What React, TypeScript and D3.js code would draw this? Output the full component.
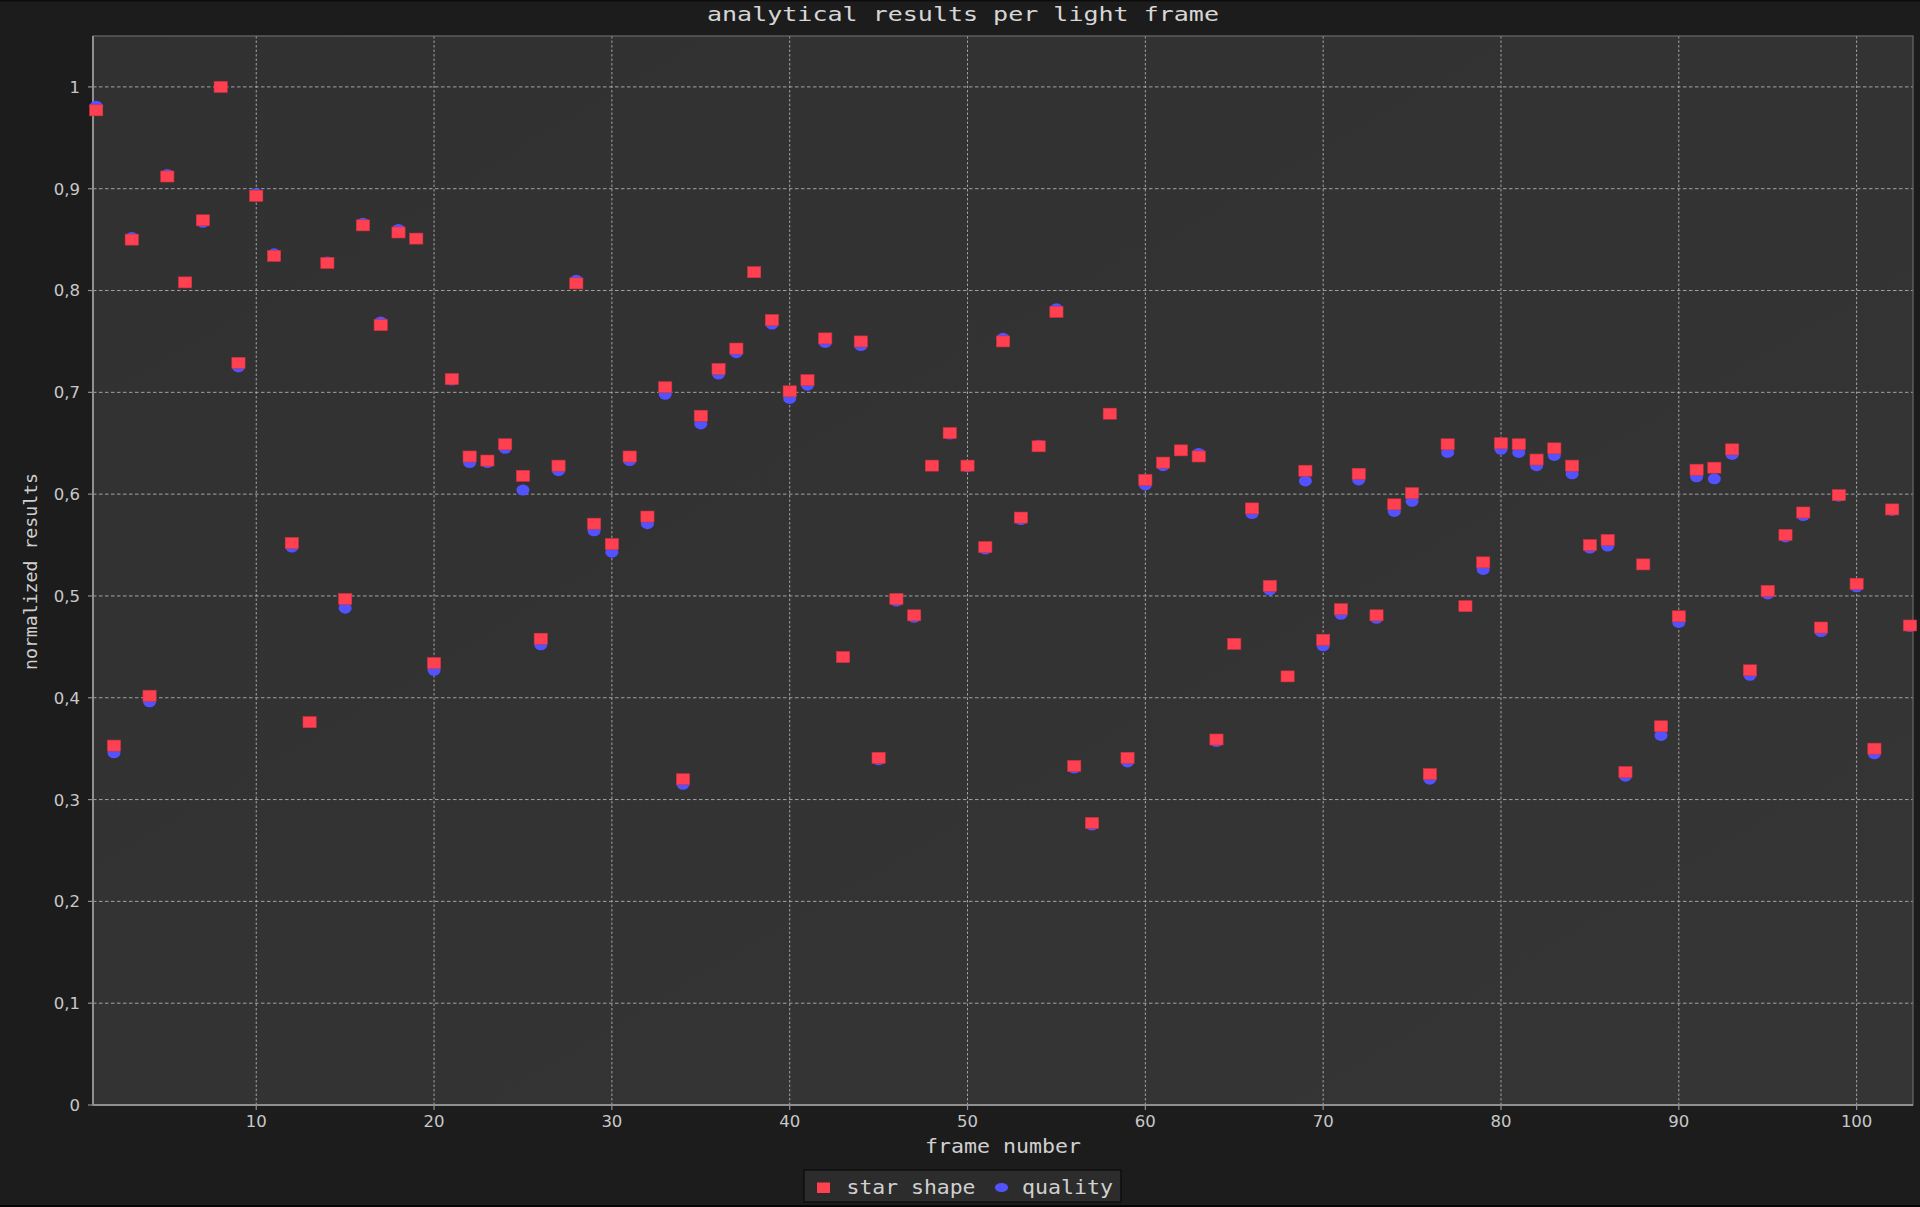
import React from "react";
import * as d3 from "d3";

const starShape: number[] = [
  0.977, 0.353, 0.850, 0.402, 0.912, 0.808, 0.869, 1.000, 0.729, 0.893,
  0.834, 0.552, 0.376, 0.827, 0.497, 0.864, 0.766, 0.857, 0.851, 0.434,
  0.713, 0.637, 0.633, 0.649, 0.618, 0.458, 0.628, 0.807, 0.571, 0.551,
  0.637, 0.578, 0.705, 0.320, 0.677, 0.723, 0.743, 0.818, 0.771, 0.701,
  0.712, 0.753, 0.440, 0.750, 0.341, 0.497, 0.481, 0.628, 0.660, 0.628,
  0.548, 0.750, 0.577, 0.647, 0.779, 0.333, 0.277, 0.679, 0.341, 0.614,
  0.631, 0.643, 0.637, 0.359, 0.453, 0.586, 0.510, 0.421, 0.623, 0.457,
  0.487, 0.620, 0.481, 0.590, 0.601, 0.325, 0.649, 0.490, 0.533, 0.650,
  0.649, 0.634, 0.645, 0.628, 0.550, 0.555, 0.327, 0.531, 0.372, 0.480,
  0.624, 0.626, 0.644, 0.427, 0.505, 0.560, 0.582, 0.469, 0.599, 0.512,
  0.350, 0.585, 0.471,
];

const quality: number[] = [
  0.981, 0.346, 0.852, 0.396, 0.914, 0.808, 0.867, 1.000, 0.725, 0.895,
  0.836, 0.548, 0.376, 0.828, 0.488, 0.866, 0.769, 0.860, 0.851, 0.427,
  0.712, 0.631, 0.631, 0.645, 0.604, 0.452, 0.623, 0.810, 0.564, 0.543,
  0.633, 0.571, 0.698, 0.315, 0.669, 0.718, 0.739, 0.818, 0.767, 0.694,
  0.707, 0.749, 0.440, 0.746, 0.339, 0.495, 0.479, 0.628, 0.659, 0.627,
  0.546, 0.753, 0.575, 0.648, 0.782, 0.331, 0.275, 0.679, 0.337, 0.609,
  0.628, 0.643, 0.640, 0.357, 0.453, 0.581, 0.506, 0.421, 0.613, 0.451,
  0.482, 0.614, 0.478, 0.583, 0.593, 0.320, 0.641, 0.490, 0.526, 0.644,
  0.641, 0.628, 0.638, 0.620, 0.547, 0.549, 0.323, 0.531, 0.363, 0.474,
  0.617, 0.615, 0.639, 0.422, 0.502, 0.558, 0.579, 0.465, 0.598, 0.509,
  0.345, 0.584, 0.470,
];

const frames: number[] = starShape.map((_, i) => i + 1);

const titleText = "analytical results per light frame";
const xLabel = "frame number";
const yLabel = "normalized results";
const seriesNames = ["star shape", "quality"];

const W = 1920;
const H = 1207;
const plot = { left: 93, top: 36, right: 1913, bottom: 1105 };

const RED = "#ff4050";
const BLUE = "#5252ff";
const MONO = "'DejaVu Sans Mono', monospace";
const SANS = "'DejaVu Sans', sans-serif";

const locale = d3.formatLocale({
  decimal: ",",
  thousands: ".",
  grouping: [3],
  currency: ["", ""],
});
const fmtY = locale.format(".1~f");

export default function App() {
  const x = d3.scaleLinear().domain([0.82, 103.17]).range([plot.left, plot.right]);
  const y = d3.scaleLinear().domain([0, 1.05]).range([plot.bottom, plot.top]);
  const xTicks = x.ticks(10);
  const yTicks = y.ticks(10);

  const mw = 13.2;
  const mh = 11;

  return (
    <svg
      width={W}
      height={H}
      style={{ position: "absolute", left: 0, top: 0, display: "block" }}
    >
      <defs>
        <linearGradient id="plotbg" x1="0" y1="0" x2="1" y2="1">
          <stop offset="0" stopColor="#313131" />
          <stop offset="1" stopColor="#353535" />
        </linearGradient>
      </defs>
      <rect x={0} y={0} width={W} height={H} fill="#1c1c1c" />
      <rect x={0} y={0} width={W} height={1.5} fill="#0c0c0c" />
      <rect x={0} y={H - 2} width={W} height={2} fill="#050505" />

      {/* title */}
      <text
        x={963}
        y={21}
        textAnchor="middle"
        fontFamily={MONO}
        fontSize={20}
        fill="#d6d6d6"
        textLength={512}
        lengthAdjust="spacingAndGlyphs"
      >
        {titleText}
      </text>

      {/* plot background */}
      <rect
        x={plot.left}
        y={plot.top}
        width={plot.right - plot.left}
        height={plot.bottom - plot.top}
        fill="url(#plotbg)"
      />

      {/* grid */}
      {yTicks.map((t) => (
        <line
          key={"gy" + t}
          x1={plot.left}
          x2={plot.right}
          y1={y(t)}
          y2={y(t)}
          stroke="#b0b0b0"
          strokeWidth={1}
          strokeDasharray="3.5,2.5"
          opacity={0.9}
        />
      ))}
      {xTicks.map((t) => (
        <line
          key={"gx" + t}
          x1={x(t)}
          x2={x(t)}
          y1={plot.top}
          y2={plot.bottom}
          stroke="#b0b0b0"
          strokeWidth={1}
          strokeDasharray="2.5,2"
          opacity={0.9}
        />
      ))}

      {/* plot outline */}
      <rect
        x={plot.left}
        y={plot.top}
        width={plot.right - plot.left}
        height={plot.bottom - plot.top}
        fill="none"
        stroke="#6a6a6a"
        strokeWidth={1.2}
      />
      {/* axes */}
      <line x1={plot.left} x2={plot.left} y1={plot.top} y2={plot.bottom} stroke="#909090" strokeWidth={2} />
      <line x1={plot.left} x2={plot.right} y1={plot.bottom} y2={plot.bottom} stroke="#909090" strokeWidth={2} />

      {/* y ticks */}
      {yTicks.map((t) => (
        <g key={"ty" + t}>
          <line x1={plot.left - 5} x2={plot.left} y1={y(t)} y2={y(t)} stroke="#909090" strokeWidth={1.2} />
          <text
            x={80}
            y={y(t)}
            dy="0.36em"
            textAnchor="end"
            fontFamily={SANS}
            fontSize={16.5}
            fill="#c8c8c8"
          >
            {fmtY(t)}
          </text>
        </g>
      ))}

      {/* x ticks */}
      {xTicks.map((t) => (
        <g key={"tx" + t}>
          <line x1={x(t)} x2={x(t)} y1={plot.bottom} y2={plot.bottom + 5} stroke="#909090" strokeWidth={1.2} />
          <text
            x={x(t)}
            y={1126.5}
            textAnchor="middle"
            fontFamily={SANS}
            fontSize={16.5}
            fill="#c8c8c8"
          >
            {t}
          </text>
        </g>
      ))}

      {/* axis labels */}
      <text
        x={(plot.left + plot.right) / 2}
        y={1152.5}
        textAnchor="middle"
        fontFamily={MONO}
        fontSize={20}
        fill="#d0d0d0"
        textLength={156}
        lengthAdjust="spacingAndGlyphs"
      >
        {xLabel}
      </text>
      <text
        transform={`translate(37,571.5) rotate(-90)`}
        textAnchor="middle"
        fontFamily={MONO}
        fontSize={18}
        fill="#d0d0d0"
        textLength={197}
        lengthAdjust="spacingAndGlyphs"
      >
        {yLabel}
      </text>

      {/* markers: quality (blue ellipses) behind star shape (red squares) */}
      <g>
        {frames.map((f, i) => (
          <ellipse
            key={"q" + f}
            cx={x(f)}
            cy={y(quality[i])}
            rx={6.5}
            ry={5.5}
            fill={BLUE}
          />
        ))}
        {frames.map((f, i) => (
          <rect
            key={"s" + f}
            x={x(f) - mw / 2}
            y={y(starShape[i]) - mh / 2}
            width={mw}
            height={mh}
            fill={RED}
            stroke="#d83040"
            strokeWidth={0.6}
          />
        ))}
      </g>

      {/* legend */}
      <rect x={804} y={1170} width={317} height={32} fill="#2c2c2c" stroke="#0e0e0e" strokeWidth={1.5} />
      <rect x={817} y={1182.5} width={13} height={10.5} fill={RED} />
      <text
        x={846.5}
        y={1193.5}
        fontFamily={MONO}
        fontSize={20}
        fill="#d0d0d0"
        textLength={129}
        lengthAdjust="spacingAndGlyphs"
      >
        {seriesNames[0]}
      </text>
      <ellipse cx={1001.5} cy={1187.5} rx={6.6} ry={4.6} fill={BLUE} />
      <text
        x={1022}
        y={1193.5}
        fontFamily={MONO}
        fontSize={20}
        fill="#d0d0d0"
        textLength={91}
        lengthAdjust="spacingAndGlyphs"
      >
        {seriesNames[1]}
      </text>
    </svg>
  );
}
